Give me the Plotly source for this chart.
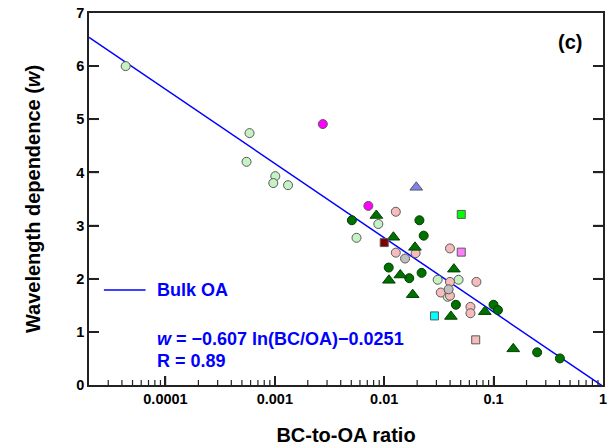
import plotly.graph_objects as go
import numpy as np

# ---- data ----
light_green_x = [4.33e-5, 5.87e-4, 5.51e-4, 1.01e-3, 9.68e-4, 1.32e-3, 5.58e-3, 8.83e-3, 0.0308, 0.0478, 0.038]
light_green_y = [6.00, 4.74, 4.20, 3.93, 3.80, 3.76, 2.77, 3.03, 1.98, 1.98, 1.66]

pink_x = [0.01276, 0.01276, 0.01936, 0.0399, 0.0696, 0.0399, 0.03285, 0.0399, 0.0614, 0.0614]
pink_y = [3.26, 2.49, 2.48, 2.57, 1.94, 1.94, 1.74, 1.68, 1.47, 1.35]

gray_x = [0.0155, 0.0388]
gray_y = [2.38, 1.80]

dg_circle_x = [5.06e-3, 0.02098, 0.02295, 0.01099, 0.01694, 0.02197, 0.0452, 0.0998, 0.1096, 0.250, 0.4036]
dg_circle_y = [3.10, 3.10, 2.81, 2.21, 2.01, 2.11, 1.51, 1.51, 1.41, 0.615, 0.50]

dg_tri_x = [8.47e-3, 0.01213, 0.0191, 0.04335, 0.01104, 0.01403, 0.0182, 0.0407, 0.0831, 0.1512]
dg_tri_y = [3.19, 2.78, 2.59, 2.18, 1.97, 2.07, 1.70, 1.29, 1.38, 0.68]

blue_tri_x = [0.01963]
blue_tri_y = [3.72]

magenta_x = [2.746e-3, 7.16e-3]
magenta_y = [4.91, 3.37]

darkred_sq_x = [0.0100]
darkred_sq_y = [2.68]
lime_sq_x = [0.0506]
lime_sq_y = [3.21]
violet_sq_x = [0.0506]
violet_sq_y = [2.50]
cyan_sq_x = [0.0288]
cyan_sq_y = [1.30]
pink_sq_x = [0.0686]
pink_sq_y = [0.85]

# fit: w = a ln(BC/OA) + b
fit_a = -0.607
fit_b = -0.0251
fit_x = [2e-5, 1.0]

x_major = [1e-4, 1e-3, 1e-2, 1e-1]
x_minor = [k * 10.0 ** e for e in range(-5, 0) for k in range(2, 10) if k * 10.0 ** e > 2.05e-5]
y_tickvals = [0, 1, 2, 3, 4, 5, 6, 7]

FONT = "Liberation Sans, Arial, sans-serif"
AX = "#222222"
OUT = "#5a5a5a"

fig = go.Figure()

fit_y = [fit_a * np.log(v) + fit_b for v in fit_x]
fig.add_trace(go.Scatter(x=fit_x, y=fit_y, mode="lines",
                         line=dict(color="#0000ff", width=1.5),
                         name="Bulk OA", showlegend=False))

def pts(x, y, sym, color, size, lc=OUT):
    fig.add_trace(go.Scatter(x=x, y=y, mode="markers", showlegend=False,
                             marker=dict(symbol=sym, color=color, size=size,
                                         line=dict(color=lc, width=1))))

pts(light_green_x, light_green_y, "circle", "#c4f2c4", 9)
pts(pink_x, pink_y, "circle", "#f6bcbc", 9)
pts(gray_x, gray_y, "circle", "#c0c0c0", 9)
pts(dg_circle_x, dg_circle_y, "circle", "#007000", 9, "#004000")
pts(dg_tri_x, dg_tri_y, "triangle-up", "#007000", 11, "#004000")
pts(blue_tri_x, blue_tri_y, "triangle-up", "#8080f0", 11)
pts(magenta_x, magenta_y, "circle", "#ff00ff", 9)
pts(darkred_sq_x, darkred_sq_y, "square", "#800000", 8)
pts(lime_sq_x, lime_sq_y, "square", "#00ff00", 8)
pts(violet_sq_x, violet_sq_y, "square", "#ff80ff", 8)
pts(cyan_sq_x, cyan_sq_y, "square", "#00ffff", 8)
pts(pink_sq_x, pink_sq_y, "square", "#f6bcbc", 8)

L, R, T, B = 89, 4, 13, 63
W, H = 611, 448
pw, ph = W - L - R, H - T - B

def px(xp):
    return (xp - L) / pw

def py(yp):
    return (H - B - yp) / ph

# tick marks drawn as axis-referenced shapes (inside ticks)
for v in x_major:
    fig.add_shape(type="line", xref="x", yref="paper", x0=v, x1=v, y0=0, y1=9 / ph,
                  line=dict(color=AX, width=1.5), layer="above")
for v in x_minor:
    fig.add_shape(type="line", xref="x", yref="paper", x0=v, x1=v, y0=0, y1=5 / ph,
                  line=dict(color=AX, width=1.2), layer="above")
for v in y_tickvals[1:-1]:
    fig.add_shape(type="line", xref="paper", yref="y", x0=0, x1=10 / pw, y0=v, y1=v,
                  line=dict(color=AX, width=1.5), layer="above")
    fig.add_shape(type="line", xref="paper", yref="y", x0=1 - 10 / pw, x1=1, y0=v, y1=v,
                  line=dict(color=AX, width=1.5), layer="above")

fig.add_shape(type="line", xref="paper", yref="paper",
              x0=px(104), x1=px(146), y0=py(290), y1=py(290),
              line=dict(color="#0000ff", width=1.5))

annos = [
    dict(x=px(156), y=py(290), text="Bulk OA", size=18, xanchor="left"),
    dict(x=px(156), y=py(338.5), text="<i>w</i> = \u22120.607 ln(BC/OA)\u22120.0251", size=18, xanchor="left"),
    dict(x=px(156), y=py(361), text="R = 0.89", size=18, xanchor="left"),
]
for a in annos:
    fig.add_annotation(xref="paper", yref="paper", x=a["x"], y=a["y"], text=a["text"],
                       xanchor=a["xanchor"], yanchor="middle", showarrow=False,
                       font=dict(family=FONT, size=a["size"], color="#0000ff", weight="bold"))
fig.add_annotation(xref="paper", yref="paper", x=px(574), y=py(42), text="(c)",
                   xanchor="center", yanchor="middle", showarrow=False,
                   font=dict(family=FONT, size=20, color="#000000", weight="bold"))

fig.update_layout(
    width=W, height=H,
    margin=dict(l=L, r=R, t=T, b=B),
    paper_bgcolor="white", plot_bgcolor="white",
    font=dict(family=FONT, color="#000000"),
    xaxis=dict(type="log", range=[np.log10(2e-5), 0],
               tickmode="linear", tick0=0, dtick=1, exponentformat="none",
               ticks="inside", ticklen=9, tickwidth=1.5, tickcolor=AX,
               showline=True, linecolor=AX, linewidth=1.5, mirror=True,
               showgrid=False, zeroline=False,
               tickfont=dict(family=FONT, size=14.5, weight="bold"),
               title=dict(text="BC-to-OA ratio", standoff=22,
                          font=dict(family=FONT, size=20, weight="bold"))),
    yaxis=dict(range=[0, 7], tickvals=y_tickvals,
               ticks="inside", ticklen=10, tickwidth=1.5, tickcolor=AX,
               showline=True, linecolor=AX, linewidth=1.5, mirror="ticks",
               showgrid=False, zeroline=False,
               tickfont=dict(family=FONT, size=14.5, weight="bold"),
               title=dict(text="Wavelength dependence (<i>w</i>)", standoff=30,
                          font=dict(family=FONT, size=20, weight="bold"))),
)

fig.write_html("out.html")
